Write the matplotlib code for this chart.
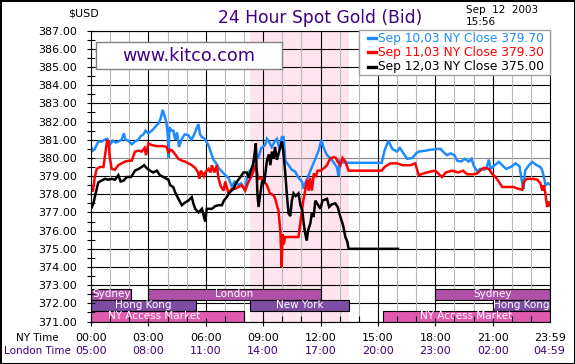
import matplotlib
matplotlib.use("Agg")
import matplotlib.pyplot as plt
from matplotlib.patches import Rectangle
from matplotlib.lines import Line2D
from matplotlib.transforms import blended_transform_factory

# ---------------- data ----------------
sep10_t = [0.0, 0.1, 0.2, 0.38, 0.56, 0.7, 0.85, 1.0, 1.15, 1.3, 1.43, 1.6, 1.72, 1.8, 1.95,
           2.13, 2.3, 2.48, 2.6, 2.75, 2.85, 3.0, 3.18, 3.35, 3.53, 3.65, 3.75, 3.85, 3.95,
           4.02, 4.05, 4.1, 4.2, 4.31, 4.4, 4.5, 4.6, 4.75, 4.9, 5.09, 5.25, 5.4, 5.55, 5.62,
           5.7, 5.8, 5.95, 6.14, 6.3, 6.4, 6.55, 6.67, 6.85, 7.02, 7.19, 7.37, 7.5, 7.6, 7.71,
           7.85, 8.06, 8.15, 8.3, 8.45, 8.6, 8.75, 8.9, 9.1, 9.2, 9.3, 9.45, 9.6, 9.72, 9.85,
           9.98, 10.07, 10.16, 10.33, 10.5, 10.68, 10.85, 11.03, 11.12, 11.2, 11.38, 11.55,
           11.73, 11.9, 12.05, 12.15, 12.34, 12.5, 12.69, 12.85, 12.95, 13.0, 13.2, 13.4,
           15.2, 15.35, 15.55, 15.75, 16.0, 16.15, 16.53, 16.8, 17.0, 17.14, 17.5, 17.75,
           18.27, 18.45, 18.62, 18.8, 19.0, 19.15, 19.35, 19.55, 19.75, 19.9, 20.0, 20.2,
           20.35, 20.55, 20.7, 20.8, 20.9, 21.05, 21.32, 21.5, 21.7, 21.95, 22.2, 22.4,
           22.55, 22.62, 22.7, 22.9, 23.07, 23.3, 23.5, 23.6, 23.68, 23.77, 23.9, 23.98]
sep10_v = [380.6, 380.4, 380.5, 380.9, 380.9, 381.0, 381.05, 380.75, 380.95, 380.85, 380.9,
           381.0, 381.35, 381.0, 380.95, 380.75, 380.9, 381.0, 381.2, 381.3, 381.5, 381.35,
           381.5, 381.7, 381.9, 382.2, 382.65, 382.3, 381.9, 381.2, 380.0, 381.7, 381.5,
           381.5, 381.0, 381.4, 380.6, 381.05, 381.3, 381.25, 381.0, 381.3, 381.7, 381.85,
           381.3, 381.15, 381.05, 380.7, 380.2, 379.9, 379.7, 379.45, 379.25, 379.05, 378.9,
           378.4, 378.7, 378.65, 378.5, 378.6, 378.2, 378.9, 379.3, 379.5, 380.35, 380.0,
           380.55, 380.7, 381.05, 380.9, 380.6, 380.9, 381.05, 380.5, 381.15, 381.15, 379.85,
           379.6, 379.35, 379.25, 378.9, 378.7, 378.3, 378.6, 379.05, 379.5, 379.95, 380.4,
           381.0, 380.6, 380.15, 380.0, 379.75, 379.5, 379.0, 379.85, 379.75, 379.73,
           379.73, 380.4, 380.95, 380.5, 380.35, 380.55, 379.95, 380.0, 380.25, 380.35,
           380.4, 380.45, 380.5, 380.3, 380.15, 380.25, 380.15, 379.85, 379.8, 379.95,
           379.8, 379.95, 379.6, 379.25, 379.4, 379.35, 379.5, 379.9, 379.4, 379.55, 379.78,
           379.6, 379.4, 379.5, 379.7, 379.55, 378.6, 378.3, 379.3, 379.6, 379.78, 379.6,
           379.5, 379.3, 378.95, 378.5, 378.6, 378.55]

sep11_t = [0.1, 0.2, 0.3, 0.47, 0.65, 0.77, 0.84, 0.92, 0.98, 1.08, 1.25, 1.43, 1.6, 1.78,
           2.0, 2.13, 2.3, 2.5, 2.65, 2.8, 2.88, 3.0, 3.2, 3.44, 3.79, 3.96, 4.05, 4.15, 4.25,
           4.4, 4.57, 4.75, 4.92, 5.09, 5.27, 5.45, 5.6, 5.67, 5.75, 5.9, 5.97, 6.14, 6.25,
           6.32, 6.45, 6.58, 6.67, 6.8, 6.93, 7.02, 7.19, 7.35, 7.54, 7.71, 7.89, 8.06, 8.24,
           8.4, 8.5, 8.6, 8.76, 8.9, 9.05, 9.2, 9.35, 9.55, 9.65, 9.72, 9.8, 9.9, 9.97, 10.02,
           10.08, 10.16, 10.5, 10.85, 10.94, 11.0, 11.1, 11.2, 11.3, 11.38, 11.45, 11.55,
           11.65, 11.75, 11.85, 12.0, 12.2, 12.34, 12.5, 12.69, 12.8, 12.9, 13.04, 13.15,
           13.3, 13.47, 15.2, 15.35, 15.65, 16.0, 16.3, 16.7, 16.95, 17.14, 17.4, 17.75,
           18.0, 18.2, 18.35, 18.55, 18.88, 19.2, 19.45, 19.67, 20.0, 20.2, 20.4, 20.54,
           20.8, 20.95, 21.15, 21.32, 21.5, 21.8, 22.1, 22.35, 22.55, 22.64, 22.8, 23.1,
           23.34, 23.5, 23.6, 23.68, 23.77, 23.85, 23.92, 23.98]
sep11_v = [378.2, 378.95, 379.4, 379.5, 379.5, 380.4, 380.95, 380.9, 380.05, 379.4, 379.35,
           379.6, 379.7, 379.8, 379.85, 379.85, 380.35, 380.4, 380.35, 380.55, 380.15, 380.8,
           380.7, 380.65, 380.65, 380.6, 380.25, 380.45, 380.4, 380.2, 379.95, 379.85, 379.8,
           379.7, 379.6, 379.45, 379.2, 378.85, 379.3, 379.0, 379.2, 379.4, 379.2, 379.6,
           379.2, 379.6, 378.85, 378.4, 378.2, 378.7, 378.05, 378.3, 378.3, 378.4, 378.5,
           378.2, 378.7, 379.0, 379.3, 379.6, 378.85, 378.9, 378.7, 378.5, 378.05, 377.95,
           377.7, 377.4, 377.1, 376.0, 374.0, 375.8, 375.25, 375.65, 375.65, 375.65, 376.4,
           376.85, 377.65, 378.2, 378.8, 378.2, 378.9, 378.2, 379.15, 378.95, 379.3, 379.3,
           379.45, 379.6, 379.95, 380.05, 380.0, 379.8, 379.6, 380.0, 379.8, 379.3, 379.3,
           379.5, 379.7, 379.7, 379.6, 379.6, 379.7, 379.05, 379.15, 379.25, 379.3, 379.1,
           378.95, 379.2, 379.3, 379.2, 379.3, 379.1, 379.1, 379.15, 379.35, 379.45, 379.4,
           379.15, 378.95, 378.7, 378.4, 378.4, 378.4, 378.3, 378.25, 378.7, 378.85, 378.85,
           378.8, 378.6, 378.2, 378.5, 377.95, 377.3, 377.6, 377.4]

sep12_t = [0.0, 0.05, 0.15, 0.2, 0.3, 0.38, 0.55, 0.73, 0.9, 1.08, 1.25, 1.43, 1.55, 1.7,
           1.87, 2.1, 2.3, 2.5, 2.65, 2.78, 2.9, 3.09, 3.25, 3.44, 3.6, 3.79, 3.95, 4.05,
           4.14, 4.3, 4.4, 4.57, 4.75, 4.92, 5.09, 5.27, 5.35, 5.45, 5.62, 5.8, 5.97, 6.05,
           6.32, 6.5, 6.67, 6.84, 6.95, 7.1, 7.25, 7.45, 7.6, 7.78, 7.97, 8.15, 8.25, 8.36,
           8.48, 8.55, 8.62, 8.66, 8.7, 8.76, 8.85, 8.95, 9.05, 9.1, 9.2, 9.3, 9.38, 9.46,
           9.55, 9.62, 9.72, 9.8, 9.9, 9.98, 10.05, 10.16, 10.25, 10.33, 10.42, 10.5, 10.59,
           10.7, 10.85, 10.95, 11.05, 11.12, 11.2, 11.28, 11.35, 11.47, 11.55, 11.64, 11.73,
           11.85, 12.0, 12.1, 12.34, 12.45, 12.6, 12.77, 12.9, 13.04, 13.15, 13.2, 13.3,
           13.4, 13.47, 16.05]
sep12_v = [377.2, 377.3, 377.6, 377.85, 378.3, 378.65, 378.75, 378.85, 378.8, 378.85, 378.8,
           379.05, 378.7, 378.75, 378.95, 378.95, 379.3, 379.4, 379.5, 379.6, 379.45, 379.3,
           379.2, 379.3, 379.05, 378.95, 378.85, 378.8, 378.5, 378.4, 378.1, 377.75, 377.4,
           377.55, 377.65, 377.85, 377.5, 377.2, 377.0, 377.2, 376.5, 377.2, 377.2, 377.35,
           377.4, 377.4, 377.65, 377.85, 378.1, 378.3, 378.65, 378.9, 379.2, 379.2, 378.9,
           379.3, 379.65, 380.2, 380.8, 379.3, 378.05, 377.3, 378.0, 378.75, 378.6, 379.0,
           379.85, 380.2, 379.6, 380.35, 379.95, 380.6, 379.9, 380.2, 380.6, 380.9, 380.4,
           379.15, 377.85, 376.95, 376.8, 377.65, 378.05, 377.9, 378.05, 377.4, 377.1, 376.4,
           375.85, 375.45, 376.0, 376.4, 377.0, 376.75, 377.65, 377.45, 377.2, 377.65,
           377.75, 377.3, 377.45, 377.5, 377.3, 376.75, 376.4, 376.2, 375.65, 375.4, 375.0,
           375.0]

series_labels = ["Sep 10,03", "Sep 11,03", "Sep 12,03"]
series_close = [379.70, 379.30, 375.00]
series_colors = ["#1E8CFF", "#FF0000", "#000000"]

ny_ticks = [0, 3, 6, 9, 12, 15, 18, 21, 23 + 59 / 60]
ny_labels = ["00:00", "03:00", "06:00", "09:00", "12:00", "15:00", "18:00", "21:00", "23:59"]
london_labels = ["05:00", "08:00", "11:00", "14:00", "17:00", "20:00", "23:00", "02:00", "04:59"]
y_ticks = list(range(371, 388))

comex_session = (8 + 20 / 60, 13.5)

# market sessions: (name, start, end, row)
markets = [
    ("Sydney", 0.0, 2.1, 2), ("London", 3.0, 12.0, 2), ("Sydney", 18.0, 24.0, 2),
    ("Hong Kong", 0.0, 5.5, 1), ("New York", 8 + 20 / 60, 13.5, 1), ("Hong Kong", 21.0, 24.0, 1),
    ("NY Access Market", 0.0, 8.0, 0), ("NY Access Market", 15.25, 24.0, 0),
]
market_label_x = [1.1, 7.5, 21.0, 2.75, 10.9, 22.5, 3.3, 19.6]

# ---------------- styling ----------------
PURPLE = "#400080"
row_colors = {2: "#B050A8", 1: "#7E4CA2", 0: "#E05AB0"}
row_base = 371.0
row_h = 0.6

W, H = 575, 364
fig = plt.figure(figsize=(W / 100, H / 100), dpi=100)
fig.patch.set_facecolor("white")

def fx(px):
    return px / W

def fy(py):
    return 1 - py / H

ax_left, ax_right, ax_top, ax_bot = 91, 550, 30.7, 321.5
ax = fig.add_axes([fx(ax_left), fy(ax_bot), fx(ax_right - ax_left), (ax_bot - ax_top) / H])
ax.set_xlim(0, 24)
ax.set_ylim(371, 387)
ax.set_facecolor("white")

# COMEX shading
ax.axvspan(comex_session[0], comex_session[1], color="#FFE4F0", zorder=0.3, lw=0)

# grid
for yv in y_ticks:
    ax.axhline(yv, color="#8A8A8A" if yv == 380 else "black", lw=0.8, zorder=0.8)
for h in range(1, 24):
    ax.axvline(h, color="black" if h % 3 == 0 else "#B8B8B8", lw=0.8, zorder=0.8)

# market session bars
for (name, s, e, row), lx in zip(markets, market_label_x):
    ax.barh(row_base + row * row_h + row_h / 2, e - s, left=s, height=row_h,
            color=row_colors[row], edgecolor="black", lw=0.8, zorder=1)
    ax.text(lx, row_base + row * row_h + row_h / 2, name, color="white", fontsize=7.5,
            ha="center", va="center", zorder=1.2)

# data lines
for t, v, c in zip([sep10_t, sep11_t, sep12_t], [sep10_v, sep11_v, sep12_v], series_colors):
    ax.plot(t, v, color=c, lw=1.8, zorder=2, solid_joinstyle="miter")

# axes ticks
ax.set_yticks(y_ticks)
ax.set_yticklabels([f"{v:.2f}" for v in y_ticks])
ax.set_yticks([v + 0.5 for v in y_ticks[:-1]], minor=True)
ax.tick_params(axis="y", which="both", direction="inout", length=6, width=0.8, pad=7,
               labelsize=8, colors="black")
ax.set_xticks(ny_ticks[:-1])
ax.set_xticks(range(1, 24), minor=True)
ax.tick_params(axis="x", which="major", direction="inout", length=6, width=0.8, labelbottom=False)
ax.tick_params(axis="x", which="minor", direction="in", length=4, width=0.8)
for sp in ax.spines.values():
    sp.set_color("black")
    sp.set_linewidth(0.8)

trans = blended_transform_factory(ax.transData, ax.transAxes)
ny_y = -(338.3 - ax_bot) / (ax_bot - ax_top)
ld_y = -(351 - ax_bot) / (ax_bot - ax_top)
for x, a, b in zip(ny_ticks, ny_labels, london_labels):
    ax.text(x, ny_y, a, transform=trans, ha="center", va="center", fontsize=8, color="black",
            clip_on=False)
    ax.text(x, ld_y, b, transform=trans, ha="center", va="center", fontsize=8, color=PURPLE,
            clip_on=False)
fig.text(fx(37), fy(338.3), "NY Time", ha="center", va="center", fontsize=7.5, color="black")
fig.text(fx(37.5), fy(351), "London Time", ha="center", va="center", fontsize=7.5, color=PURPLE)

# titles
fig.text(fx(320), fy(18), "24 Hour Spot Gold (Bid)", ha="center", va="center", fontsize=12.3,
         color=PURPLE)
fig.text(fx(68), fy(14), "$USD", ha="left", va="center", fontsize=8, color="black")
fig.text(fx(465.7), fy(10), "Sep  12  2003", ha="left", va="center", fontsize=7.5, color="black")
fig.text(fx(465.7), fy(21.7), "15:56", ha="left", va="center", fontsize=7.5, color="black")

# kitco box
fig.add_artist(Rectangle((fx(95.7), fy(69.3)), fx(282.3 - 95.7), (69.3 - 42.3) / H,
                         transform=fig.transFigure, facecolor="white", edgecolor="#808080",
                         lw=1, zorder=5))
fig.text(fx(189), fy(56), "www.kitco.com", ha="center", va="center", fontsize=12.7,
         color=PURPLE, zorder=6)

# legend box
fig.add_artist(Rectangle((fx(359.3), fy(75)), fx(550 - 359.3), (75 - 29.5) / H,
                         transform=fig.transFigure, facecolor="white", edgecolor="#A0A0A0",
                         lw=1, zorder=5))
row_y = [38.3, 52.3, 66.7]
for lab, close, c, ry in zip(series_labels, series_close, series_colors, row_y):
    fig.add_artist(Line2D([fx(368), fx(376)], [fy(ry), fy(ry)], transform=fig.transFigure,
                          color=c, lw=2.4, zorder=6))
    fig.text(fx(377.5), fy(ry), f"{lab} NY Close {close:.2f}", ha="left", va="center",
             fontsize=8.8, color=c, zorder=6)

# outer frame
fig.add_artist(Rectangle((0, 0), 1, 1, transform=fig.transFigure, fill=False,
                         edgecolor="black", lw=2.2, zorder=10))

fig.savefig("out.png", dpi=100)
